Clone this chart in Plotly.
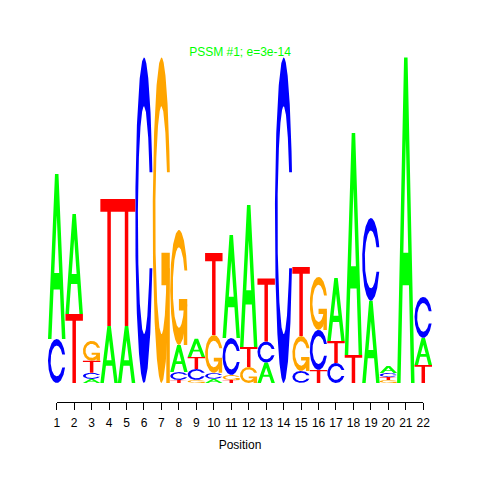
import numpy as np
import plotly.graph_objects as go

# ---- data (information content in bits, per position) ----
positions = list(range(1, 23))
tick_labels = [str(p) for p in positions]
A_bits = [1.014, 0.614, 0.025, 0.350, 0.350, 0.0, 0.0, 0.166, 0.111, 0.025, 0.633,
          0.872, 0.125, 0.0, 0.0, 0.0, 0.387, 1.364, 0.505, 0.043, 2.0, 0.166]
C_bits = [0.270, 0.0, 0.037, 0.0, 0.0, 2.0, 0.0, 0.049, 0.068, 0.037, 0.227,
          0.0, 0.130, 2.0, 0.074, 0.246, 0.123, 0.0, 0.508, 0.025, 0.0, 0.252]
G_bits = [0.0, 0.0, 0.123, 0.0, 0.0, 0.0, 2.0, 0.707, 0.018, 0.233, 0.031,
          0.098, 0.0, 0.0, 0.215, 0.326, 0.0, 0.0, 0.0, 0.018, 0.0, 0.0]
T_bits = [0.0, 0.424, 0.074, 0.780, 0.780, 0.0, 0.0, 0.018, 0.074, 0.504, 0.018,
          0.123, 0.387, 0.0, 0.424, 0.080, 0.135, 0.172, 0.0, 0.018, 0.0, 0.111]
title_text = "PSSM #1; e=3e-14"
x_title = "Position"

colors = {"A": "#00FF00", "C": "#0000FF", "G": "#FFA500", "T": "#FF0000"}
FONT = "Liberation Sans, Arial, Helvetica, sans-serif"


# ---- glyph outlines in a unit box (seqLogo style) ----
def c_outline():
    a1 = np.linspace(0.3 + np.pi / 2, np.pi, 100)
    a2 = np.linspace(np.pi, 1.5 * np.pi, 100)
    xl = np.concatenate([0.5 + 0.5 * np.sin(a1), 0.5 + 0.5 * np.sin(a2)])
    yl1 = 0.5 + 0.5 * np.cos(a1)
    yl = np.concatenate([yl1, 0.5 + 0.5 * np.cos(a2)])
    xo = np.concatenate([xl, xl[::-1]])
    yo = np.concatenate([yl, 1 - yl[::-1]])
    xi1 = 0.5 + 0.35 * np.sin(a1)
    yi1 = 0.5 + 0.35 * np.cos(a1)
    keep = yi1 <= yl1.max()
    xi1 = xi1[keep]
    yi1 = yi1[keep].copy()
    yi1[0] = yl1.max()
    xi = np.concatenate([xi1, 0.5 + 0.35 * np.sin(a2)])
    yi = np.concatenate([yi1, 0.5 + 0.35 * np.cos(a2)])
    x1 = np.concatenate([xi, xi[::-1]])
    y1 = np.concatenate([yi, 1 - yi[::-1]])
    return np.concatenate([xo, x1[::-1]]), np.concatenate([yo, y1[::-1]])


CX, CY = c_outline()
R1 = 0.5 + 0.5 * np.sin(0.3 + np.pi / 2)
GLYPH = {
    "A": (np.array([0, 0.4, 0.6, 1, 0.8, 0.68, 0.32, 0.2]),
          np.array([0, 1, 1, 0, 0, 0.3, 0.3, 0])),
    "C": (CX, CY),
    "G": (CX, CY),
    "T": (np.array([0, 1, 1, 0.6, 0.6, 0.4, 0.4, 0]),
          np.array([1, 1, 0.9, 0.9, 0, 0, 0.9, 0.9])),
}
A_HOLE = (np.array([0.36, 0.5, 0.64]), np.array([0.4, 0.75, 0.4]))
G_BAR = (np.array([R1, 0.5, 0.5, R1 - 0.2, R1 - 0.2, R1]),
         np.array([0.4, 0.4, 0.3, 0.3, 0, 0]))

bits = {"A": A_bits, "C": C_bits, "G": G_bits, "T": T_bits}
paths = {k: ([], []) for k in ["A", "C", "G", "T", "hole", "gbar"]}


def add(key, gx, gy, x0, y0, h):
    xs, ys = paths[key]
    xs.extend([float(v) for v in (x0 + gx)] + [None])
    ys.extend([float(v) for v in (y0 + gy * h)] + [None])


for i, p in enumerate(positions):
    stack = sorted(((bits[n][i], n) for n in "ACGT"), key=lambda t: t[0])
    base = 0.0
    for h, n in stack:
        if h <= 0:
            continue
        x0 = p - 0.5
        gx, gy = GLYPH[n]
        add(n, gx, gy, x0, base, h)
        if n == "A":
            add("hole", A_HOLE[0], A_HOLE[1], x0, base, h)
        if n == "G":
            add("gbar", G_BAR[0], G_BAR[1], x0, base, h)
        base += h

fig = go.Figure()
for key, col in [("A", colors["A"]), ("C", colors["C"]), ("G", colors["G"]),
                 ("T", colors["T"]), ("hole", "white"), ("gbar", colors["G"])]:
    xs, ys = paths[key]
    if not xs:
        continue
    fig.add_trace(go.Scatter(x=xs, y=ys, mode="lines", fill="toself",
                             fillcolor=col, line=dict(width=0, color=col),
                             hoverinfo="skip", showlegend=False))

# invisible trace to carry the position axis
fig.add_trace(go.Scatter(x=positions, y=[0] * len(positions), xaxis="x2", yaxis="y",
                         mode="markers", marker=dict(opacity=0), hoverinfo="skip",
                         showlegend=False))

fig.update_layout(
    width=480, height=480,
    margin=dict(l=48, r=48, t=57, b=78),
    plot_bgcolor="rgba(0,0,0,0)", paper_bgcolor="white",
    showlegend=False,
    title=dict(text=title_text, x=0.5, xanchor="center", y=1 - 52 / 480,
               yanchor="middle", font=dict(color="#00FF00", size=12, family=FONT)),
    xaxis=dict(type="linear", range=[0.5, 22.5], visible=False, fixedrange=True),
    yaxis=dict(type="linear", range=[-0.117, 2.003], visible=False, fixedrange=True),
    xaxis2=dict(type="linear", domain=[0.5 / 22, 21.5 / 22], range=[1, 22], anchor="y",
                side="bottom", showline=True, linecolor="black", linewidth=1,
                ticks="outside", ticklen=7, tickcolor="black", tickwidth=1,
                tickvals=positions, ticktext=tick_labels, showgrid=False,
                zeroline=False, tickfont=dict(size=12, color="black", family=FONT),
                ticklabelstandoff=3, fixedrange=True,
                title=dict(text=x_title, font=dict(size=12, color="black", family=FONT),
                           standoff=11)),
)

fig.write_html("out.html", config={"displayModeBar": False},
               post_script="document.body.style.margin='0px';document.body.style.padding='0px';")
